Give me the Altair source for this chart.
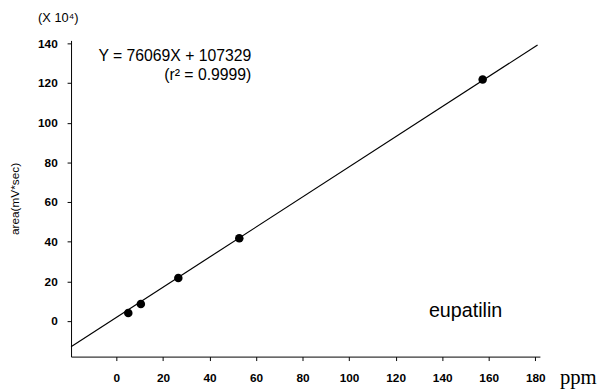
import altair as alt
import pandas as pd

# measured points (ppm, area x10^4)
conc = [5.1, 10.5, 26.6, 52.8, 157.4]
area = [4.0, 8.5, 21.7, 41.7, 121.8]

# regression line end points
line_x = [-19.5, 181.0]
line_y = [-13.0, 139.2]

x_ticks = [0, 20, 40, 60, 80, 100, 120, 140, 160, 180]
y_ticks = [0, 20, 40, 60, 80, 100, 120, 140]

eq_text = ["Y = 76069X + 107329", "(r\u00b2 = 0.9999)"]
eq_x = [58, 58]
eq_y = [133.5, 124.0]

FONT = "Liberation Sans"

pts = pd.DataFrame({"x": conc, "y": area})
ln = pd.DataFrame({"x": line_x, "y": line_y})
eq = pd.DataFrame({"t": eq_text, "x": eq_x, "y": eq_y})

xs = alt.Scale(domain=[-19.5, 182], nice=False, zero=False)
ys = alt.Scale(domain=[-18, 141.5], nice=False, zero=False)

xax = alt.Axis(values=x_ticks, title=None, tickSize=4, labelPadding=12,
               labelFont=FONT, labelFontSize=12, labelFontWeight="bold", labelColor="black",
               domainColor="black", tickColor="black", grid=False)
yax = alt.Axis(values=y_ticks, title="area(mV*sec)", tickSize=4, labelPadding=10,
               labelFont=FONT, labelFontSize=12, labelFontWeight="bold", labelColor="black",
               titleFont=FONT, titleFontSize=12, titleFontWeight="normal",
               titleColor="black", titlePadding=16,
               domainColor="black", tickColor="black", grid=False)

line = alt.Chart(ln).mark_line(color="black", strokeWidth=1.2, clip=False).encode(
    x=alt.X("x:Q", scale=xs, axis=xax),
    y=alt.Y("y:Q", scale=ys, axis=yax),
)

points = alt.Chart(pts).mark_circle(color="black", opacity=1, size=75).encode(
    x=alt.X("x:Q", scale=xs),
    y=alt.Y("y:Q", scale=ys),
)

eqt = alt.Chart(eq).mark_text(align="right", baseline="middle", font=FONT,
                              fontSize=16, color="black").encode(
    x=alt.X("x:Q", scale=xs),
    y=alt.Y("y:Q", scale=ys),
    text="t:N",
)

def label(txt, x, y, **kw):
    df = pd.DataFrame({"t": [txt], "x": [x], "y": [y]})
    return alt.Chart(df).mark_text(color="black", clip=False, **kw).encode(
        x=alt.X("x:Q", scale=xs),
        y=alt.Y("y:Q", scale=ys),
        text="t:N",
    )

mult = label("(X 10\u2074)", -25, 153, font=FONT, fontSize=13, align="center", baseline="middle")
ppm = label("ppm", 198.5, -28.8, font="Liberation Serif", fontSize=21, align="center", baseline="middle")
name = label("eupatilin", 134.3, 5, font=FONT, fontSize=20, align="left", baseline="middle")

chart = alt.layer(line, points, eqt, mult, ppm, name).properties(
    width=476, height=321,
    autosize=alt.AutoSizeParams(type="none"),
    padding={"left": 64, "top": 30, "right": 60, "bottom": 32},
).configure_view(stroke=None)

chart.save("out.html", embed_options={"renderer": "svg", "actions": False})
